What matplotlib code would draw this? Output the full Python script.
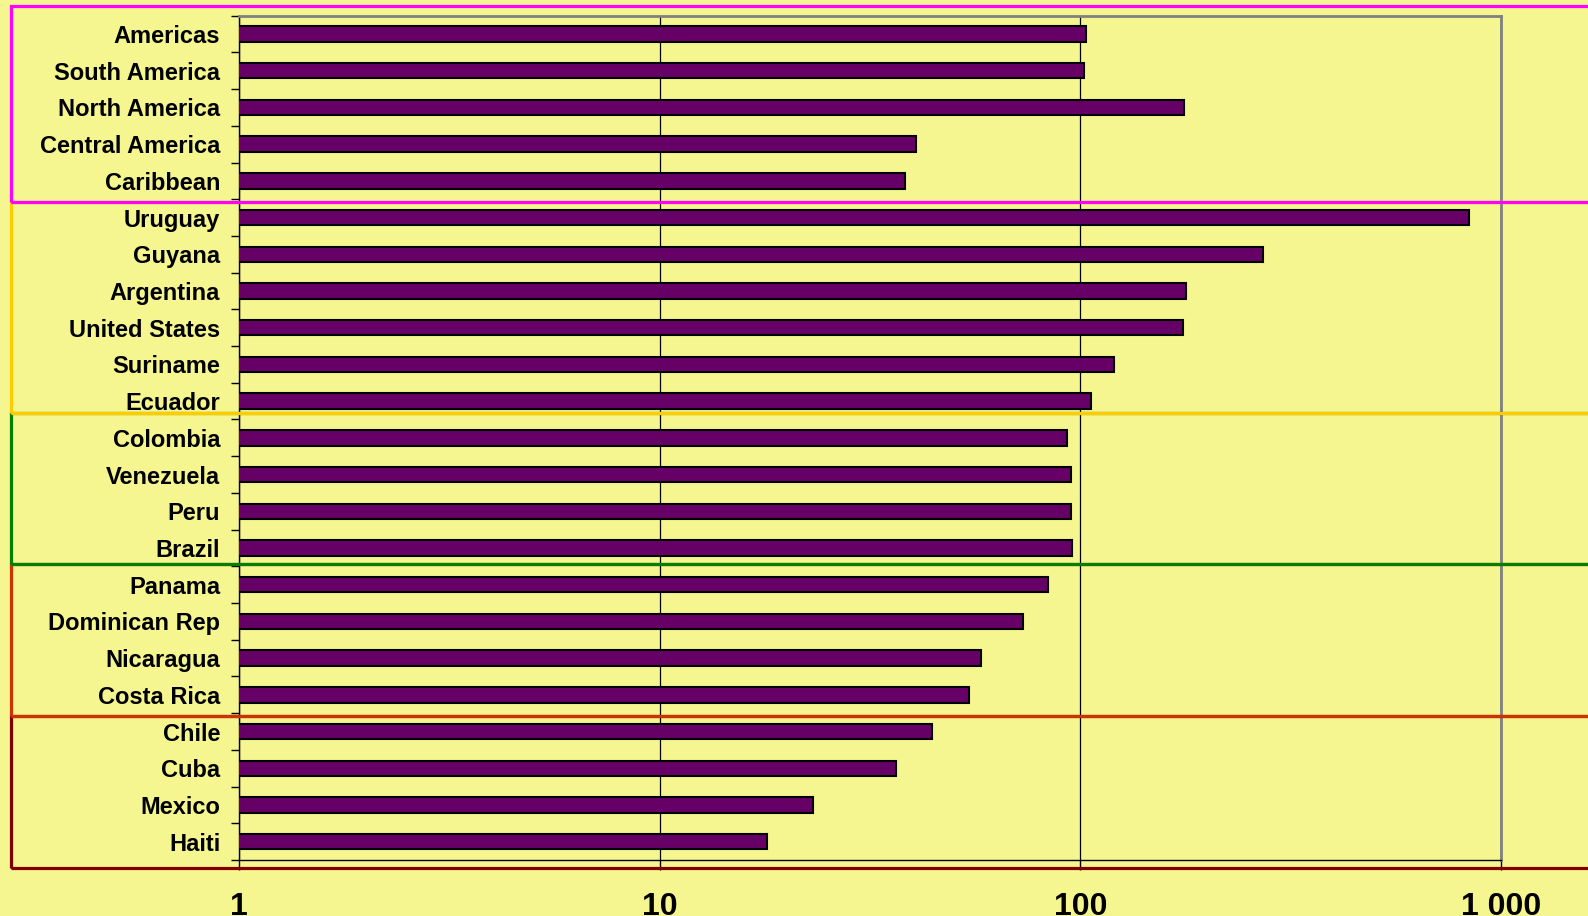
import matplotlib
matplotlib.use("Agg")
import matplotlib.pyplot as plt
from matplotlib.patches import Rectangle
from matplotlib.ticker import FixedLocator, FuncFormatter, NullFormatter

categories = ["Americas", "South America", "North America", "Central America", "Caribbean",
              "Uruguay", "Guyana", "Argentina", "United States", "Suriname", "Ecuador",
              "Colombia", "Venezuela", "Peru", "Brazil",
              "Panama", "Dominican Rep", "Nicaragua", "Costa Rica",
              "Chile", "Cuba", "Mexico", "Haiti"]
values = [103, 102, 176, 40.6, 38.4,
          838, 272, 178, 175, 120, 106,
          93, 95, 95, 95.3,
          84, 73, 58, 54.5,
          44.4, 36.5, 23.2, 18]
x_ticks = [1, 10, 100, 1000]
x_tick_labels = ["1", "10", "100", "1 000"]

BG = "#F6F691"
W, H = 1588, 916
plt.rcParams['font.family'] = ['Liberation Sans', 'DejaVu Sans']

fig = plt.figure(figsize=(W / 100, H / 100), dpi=100, facecolor=BG)
ax = fig.add_axes([239 / W, 1 - 860 / H, (1501 - 239) / W, (860 - 15.7) / H])
ax.set_facecolor(BG)

ypos = list(range(len(categories)))
ax.barh(ypos, values, height=0.42, color="#660066", edgecolor="black", linewidth=1.5, zorder=3)

ax.set_xscale("log")
ax.set_xlim(1, 1000)
ax.set_ylim(len(categories) - 0.5, -0.5)

ax.xaxis.set_major_locator(FixedLocator(x_ticks))
ax.xaxis.set_major_formatter(FuncFormatter(lambda v, p: x_tick_labels[x_ticks.index(round(v))] if round(v) in x_ticks else ""))
ax.xaxis.set_minor_locator(FixedLocator([]))
ax.xaxis.set_minor_formatter(NullFormatter())
ax.tick_params(axis="x", which="major", length=7.2, width=1, color="black", pad=16,
               labelsize=23, labelcolor="black")
for t in ax.get_xticklabels():
    t.set_fontweight("bold")

ax.set_yticks(ypos)
ax.set_yticklabels(categories, fontsize=17, fontweight="bold")
ax.set_yticks([k - 0.5 for k in range(len(categories) + 1)], minor=True)
ax.tick_params(axis="y", which="major", length=0, pad=13.5)
ax.tick_params(axis="y", which="minor", length=6, width=1, color="black")

ax.grid(axis="x", which="major", color="black", linewidth=0.9, zorder=1)
ax.set_axisbelow(True)
for s in ["top", "right"]:
    ax.spines[s].set_color("#808080")
    ax.spines[s].set_linewidth(2)
for s in ["left", "bottom"]:
    ax.spines[s].set_color("black")
    ax.spines[s].set_linewidth(1)

# group boxes (pixel coordinates of the annotation frames)
boxes = [
    (716, 867.5, "#800000"),
    (564, 716, "#CC3300"),
    (413, 564, "#008000"),
    (201.5, 413, "#FFCC00"),
    (5.5, 201.5, "#FF00FF"),
]
for top, bottom, col in boxes:
    r = Rectangle((11 / W, 1 - bottom / H), (1620 - 11) / W, (bottom - top) / H,
                  transform=fig.transFigure, fill=False, edgecolor=col, linewidth=2.3,
                  clip_on=False, zorder=10)
    fig.add_artist(r)

fig.savefig("out.png", dpi=100, facecolor=BG)
